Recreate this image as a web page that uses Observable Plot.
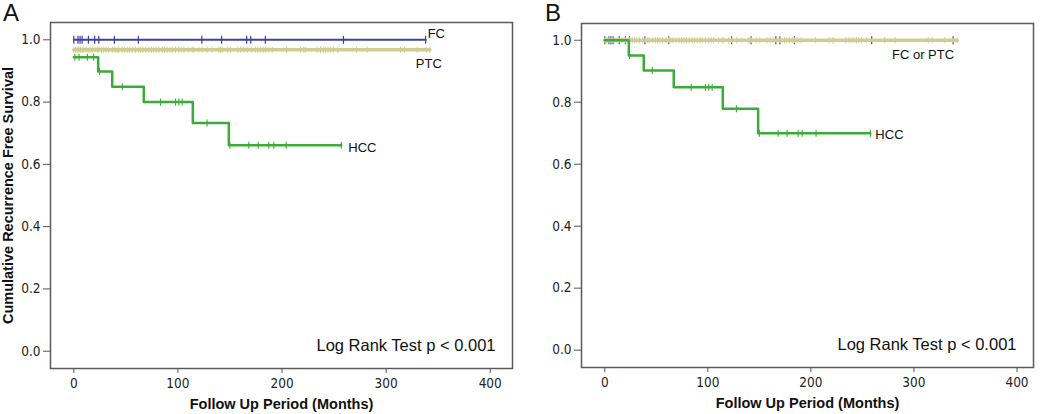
<!DOCTYPE html>
<html>
<head>
<meta charset="utf-8">
<script src="https://cdn.jsdelivr.net/npm/d3@7"></script>
<script src="https://cdn.jsdelivr.net/npm/@observablehq/plot@0.6"></script>
<style>
  html, body { margin: 0; padding: 0; background: #fff; }
  #wrap { position: relative; width: 1050px; height: 414px; overflow: hidden; font-family: "Liberation Sans", Arial, sans-serif; }
  .panel { position: absolute; top: 0; }
  .letter { position: absolute; top: 1px; font-size: 24px; line-height: 24px; color: #111; font-family: "Liberation Sans", Arial, sans-serif; }
  g[aria-label="x-axis tick label"] text, g[aria-label="y-axis tick label"] text { font-family: "Liberation Sans Narrow", "DejaVu Sans Condensed", "Liberation Sans", sans-serif; font-size: 13.5px; fill: #222; }
  g[aria-label="x-axis label"] text, g[aria-label="y-axis label"] text { font-family: "Liberation Sans", Arial, sans-serif; font-weight: bold; font-size: 14.5px; fill: #111; }
</style>
</head>
<body>
<div id="wrap">
  <div id="panelA" class="panel" style="left:0px"></div>
  <div id="panelB" class="panel" style="left:525px"></div>
  <div class="letter" style="left:3px">A</div>
  <div class="letter" style="left:545px">B</div>
</div>
<script>
// ---------- data ----------
const xTicks = [0, 100, 200, 300, 400];
const yTicks = [0, 0.2, 0.4, 0.6, 0.8, 1.0];
const logRank = "Log Rank Test p < 0.001";

// Panel A
const hccTimesA = [0, 23.4, 36.9, 67.2, 114.3, 148.9, 256.9];
const hccSurvA  = [0.944, 0.898, 0.849, 0.800, 0.733, 0.661, 0.661];
const hccCensA  = [1, 5, 13, 19, 24.7, 46.5, 83.3, 97.7, 100.9, 104.1, 128, 149.9, 168.1, 177.1, 187.3, 192.1, 204, 256.9];
const fcTimesA  = [0, 338];
const fcSurvA   = [1.0, 1.0];
const fcCensA   = [0, 4, 6, 8, 14, 20, 24, 39, 62, 123, 142, 166, 170, 184, 259, 338];
const ptcTimesA = [0, 342];
const ptcSurvA  = [0.968, 0.968];
const ptcCensA  = [0, 1.6, 3.3, 4.8, 6.4, 8.1, 9.6, 11.9, 13.8, 16, 17.7, 20.2, 22.5, 24, 26.6, 28.8, 31.1, 33.6, 36.9, 39.4, 41.7, 43.2, 46.5, 49, 51.3, 53.5, 56.1, 59.3, 61.9, 64, 66.2, 68.9, 72, 74.6, 76.8, 79.2, 81.7, 84.9, 87.1, 89.7, 92.2, 94.5, 97.7, 100.9, 103.2, 105.7, 110.5, 113.7, 115.3, 120.1, 123.4, 128.1, 132.9, 139.3, 140.9, 142.5, 147.4, 150.5, 157.5, 160.1, 163.3, 166.6, 170.4, 174.5, 176.7, 179.3, 181.9, 184.1, 187.3, 190.6, 204.3, 217.8, 221, 222.6, 233.8, 237, 239.6, 241.9, 244.2, 246.5, 249.1, 253.5, 271.5, 281.8, 313.8, 317.7, 329.9, 338.8, 342];

// Panel B
const hccTimesB = [0, 23.3, 37.8, 66.9, 114.5, 148.8, 257.7];
const hccSurvB  = [1.0, 0.951, 0.902, 0.848, 0.779, 0.700, 0.700];
const hccCensB  = [24, 46, 83.8, 97.7, 100.9, 104.2, 127.7, 150, 168.2, 176.9, 187.6, 191.5, 205, 257.7];
const fcTimesB  = [0, 338];
const fcSurvB   = [1.0, 1.0];
const fcCensB   = fcCensA;
const ptcTimesB = [0, 342];
const ptcSurvB  = [1.0, 1.0];
const ptcCensB  = ptcCensA;

// colours
const cFC = "#3b40a6", cPTC = "#cfcd90", cHCC = "#3aad36";

// ---------- helpers ----------
const pts = (times, surv) => times.map((t, i) => ({t, s: surv[i]}));
function survAt(times, surv, t) { let v = surv[0]; for (let i = 0; i < times.length; i++) if (times[i] <= t) v = surv[i]; return v; }
const cens = (times, surv, list) => list.map(t => ({t, s: survAt(times, surv, t)}));
const last = (times, surv) => ({t: times[times.length - 1], s: surv[surv.length - 1]});
const censorSymbol = { draw(ctx, size) { const h = Math.sqrt(size / Math.PI); ctx.moveTo(0, -h); ctx.lineTo(0, h); } };

function curve(times, surv, censList, color, width, r, tickW) {
  return [
    Plot.line(pts(times, surv), {x: "t", y: "s", curve: "step-after", stroke: color, strokeWidth: width}),
    Plot.dot(cens(times, surv, censList), {x: "t", y: "s", symbol: censorSymbol, r, stroke: color, strokeWidth: tickW, fill: "none"})
  ];
}

function panel({width, height, mL, mR, mT, mB, xDomain, yDomain, yLabel, series, labels}) {
  return Plot.plot({
    width, height,
    marginLeft: mL, marginRight: mR, marginTop: mT, marginBottom: mB,
    style: {fontFamily: "'Liberation Sans', Arial, sans-serif", fontSize: "12px", background: "white", color: "#111"},
    x: {domain: xDomain},
    y: {domain: yDomain},
    marks: [
      Plot.axisX(xTicks, {tickSize: 5, tickPadding: 5, stroke: "#555", label: "Follow Up Period (Months)", labelAnchor: "center", labelOffset: 40, labelArrow: "none"}),
      Plot.axisY(yTicks, {tickSize: 7, tickPadding: 3, stroke: "#555", tickFormat: d3.format(".1f"), label: yLabel, labelAnchor: "center", labelOffset: 48, labelArrow: "none"}),
      ...series,
      ...labels.map(l => Plot.text([l.at], {x: "t", y: "s", text: () => l.text, textAnchor: l.anchor, dx: l.dx, dy: l.dy, fontSize: 13, fill: "#111"})),
      Plot.text([logRank], {text: d => d, frameAnchor: "bottom-right", dx: -17, dy: -23, lineAnchor: "middle", fontSize: 16.5, fill: "#111"}),
      Plot.frame({stroke: "#5a5a5a", strokeWidth: 1.5})
    ]
  });
}

const A = panel({
  width: 525, height: 414, mL: 50, mR: 13, mT: 22, mB: 46,
  xDomain: [-22.4, 421.4], yDomain: [-0.0556, 1.0556],
  yLabel: "Cumulative Recurrence Free Survival",
  series: [
    ...curve(ptcTimesA, ptcSurvA, ptcCensA, cPTC, 3.5, 3, 1),
    ...curve(fcTimesA, fcSurvA, fcCensA, cFC, 2, 4, 1.2),
    ...curve(hccTimesA, hccSurvA, hccCensA, cHCC, 2.5, 3.5, 1.1)
  ],
  labels: [
    {at: last(fcTimesA, fcSurvA), text: "FC", anchor: "start", dx: 2, dy: -6},
    {at: last(ptcTimesA, ptcSurvA), text: "PTC", anchor: "start", dx: -14, dy: 14},
    {at: last(hccTimesA, hccSurvA), text: "HCC", anchor: "start", dx: 7, dy: 2}
  ]
});
document.getElementById("panelA").appendChild(A);

const B = panel({
  width: 525, height: 414, mL: 56, mR: 17, mT: 23, mB: 47,
  xDomain: [-22.6, 416], yDomain: [-0.056, 1.054],
  yLabel: null,
  series: [
    ...curve(fcTimesB, fcSurvB, fcCensB, cFC, 2, 4, 1.2),
    ...curve(ptcTimesB, ptcSurvB, ptcCensB, cPTC, 3.5, 3, 1),
    ...curve(hccTimesB, hccSurvB, hccCensB, cHCC, 2.5, 3.5, 1.1)
  ],
  labels: [
    {at: last(fcTimesB, fcSurvB), text: "FC or PTC", anchor: "end", dx: 1, dy: 15},
    {at: last(hccTimesB, hccSurvB), text: "HCC", anchor: "start", dx: 5, dy: 2}
  ]
});
document.getElementById("panelB").appendChild(B);
</script>
</body>
</html>
